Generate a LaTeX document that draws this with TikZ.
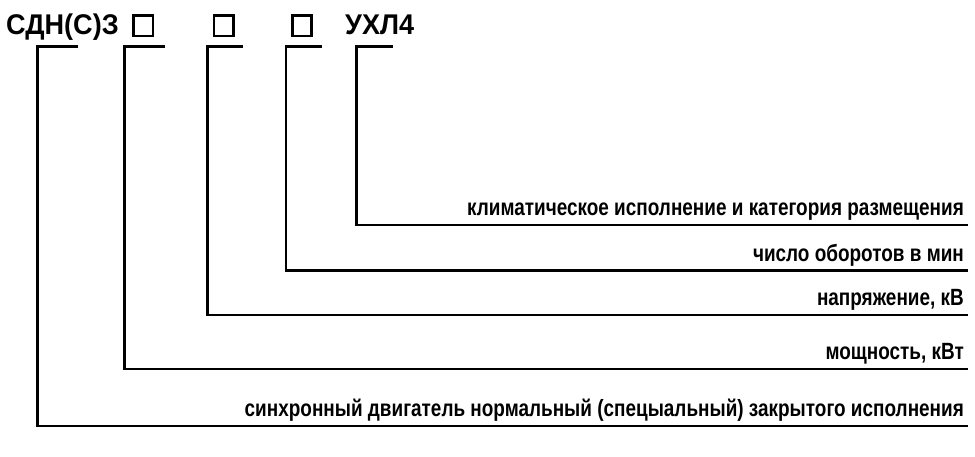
\documentclass[tikz,border=0pt]{standalone}
\usepackage{fontspec}
\setmainfont{Liberation Sans}
\newfontfamily\lblfont[FakeStretch=0.806]{Liberation Sans Bold}
\newfontfamily\ttlfont[FakeStretch=0.95]{Liberation Sans Bold}
\begin{document}
\begin{tikzpicture}[x=1pt,y=-1pt,
  lbl/.style={anchor=base east,inner sep=0pt,font=\lblfont\fontsize{23.5}{28}\selectfont},
  ttl/.style={anchor=base west,inner sep=0pt,font=\ttlfont\fontsize{28.5}{32}\selectfont},
  sq/.style={draw,line width=2.6pt,minimum width=19.4pt,minimum height=20.4pt,inner sep=0pt},
  conn/.style={line width=2.6pt,line join=miter}]
\useasboundingbox (0,0) rectangle (975,457);
% title
\node[ttl] (t0) at (6,35) {СДН(С)З};
\node[sq] (b1) at (143.2,25.7) {};
\node[sq] (b2) at (223.8,25.7) {};
\node[sq] (b3) at (302,25.7) {};
\node[ttl] (t4) at (345,35) {УХЛ4};
% labels
\node[lbl] (l5) at (964,216) {климатическое исполнение и категория размещения};
\node[lbl] (l4) at (964,261.5) {число оборотов в мин};
\node[lbl] (l3) at (964,305.5) {напряжение, кВ};
\node[lbl] (l2) at (964,359.5) {мощность, кВт};
\node[lbl] (l1) at (964,416) {синхронный двигатель нормальный (спецыальный) закрытого исполнения};
% connector points
\coordinate (s1) at (78,46.7);   \coordinate (v1) at (37.7,46.7);  \coordinate (e1) at (968,426);
\coordinate (s2) at (165,46.7);  \coordinate (v2) at (124.3,46.7); \coordinate (e2) at (968,369);
\coordinate (s3) at (243,46.7);  \coordinate (v3) at (207.3,46.7); \coordinate (e3) at (968,315);
\coordinate (s4) at (322,46.7);  \coordinate (v4) at (286,46.7);   \coordinate (e4) at (968,270.7);
\coordinate (s5) at (393,46.7);  \coordinate (v5) at (356.7,46.7); \coordinate (e5) at (968,225);
\draw[conn] (s1) -- (v1) |- (e1);
\draw[conn] (s2) -- (v2) |- (e2);
\draw[conn] (s3) -- (v3) |- (e3);
\draw[conn] (s4) -- (v4) |- (e4);
\draw[conn] (s5) -- (v5) |- (e5);
\end{tikzpicture}
\end{document}
